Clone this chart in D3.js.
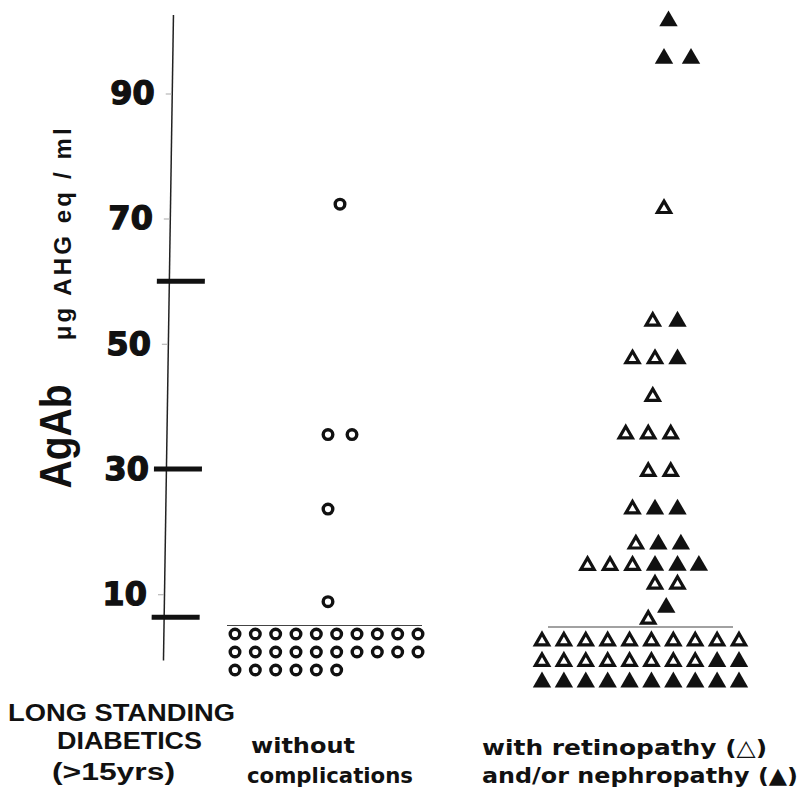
<!DOCTYPE html>
<html><head><meta charset="utf-8">
<script src="https://cdn.jsdelivr.net/npm/d3@7"></script>
<style>html,body{margin:0;padding:0;background:#fff;}svg{display:block;}</style>
</head><body>
<svg id="chart" width="803" height="794"></svg>
<script>
// ---- data ----
const yTicks = [10, 30, 50, 70, 90];
const refBars = [60, 30, 6.3];
const detectionLimit = 5;
const groups = ["without complications", "with retinopathy and/or nephropathy"];

// group 1: circles above detection limit
const circleValues = [72.3, 35.5, 35.5, 23.6, 8.8];
const circleSlots  = [0, -0.5, 0.5, -0.5, -0.5];
// circles below detection limit (per row)
const circleBelowRows = [10, 10, 6];

// group 2: triangles above detection limit (1 = nephropathy filled, 0 = retinopathy open)
const triValues = [102, 96, 96, 72, 54, 54, 48, 48, 48, 42, 36, 36, 36, 30, 30, 24, 24, 24,
                   18.4, 18.4, 18.4, 15, 15, 15, 15, 15, 15, 12, 12, 8.3, 6.4];
const triFilled = [1, 1, 1, 0, 0, 1, 0, 0, 1, 0, 0, 0, 0, 0, 0, 0, 1, 1,
                   0, 1, 1, 0, 0, 0, 1, 1, 1, 0, 0, 1, 0];
const triSlots  = [0.6, 0.4, 1.6, 0.4, -0.1, 1, -1, 0, 1, -0.1, -1.3, -0.3, 0.7, -0.3, 0.7, -1, 0, 1,
                   -0.85, 0.15, 1.15, -3, -2, -1, 0, 1, 1.95, 0, 1, 0.5, -0.3];
// triangles below detection limit (per row)
const triBelowOpen   = [10, 8, 0];
const triBelowFilled = [0, 2, 10];

// ---- drawing ----
const svg = d3.select("#chart");
const ink = "#111";

const y = d3.scaleLinear().domain([0, 100]).range([656.8, 30.8]);
const yAxisScale = y.copy().domain([-0.5, 102.6]).range([y(-0.5), y(102.6)]);

const axisG = svg.append("g")
  .attr("transform", "translate(173.2,0) skewX(-0.887)")
  .call(d3.axisLeft(yAxisScale).tickValues(yTicks).tickSize(6).tickSizeOuter(0)
        .tickPadding(11).tickFormat(d3.format("d")));
axisG.select(".domain").attr("stroke", "#222").attr("stroke-width", 1.5);
axisG.selectAll(".tick line").attr("stroke", "#aaa").attr("stroke-width", 1);
axisG.selectAll(".tick text")
  .attr("fill", ink).attr("stroke", ink).attr("stroke-width", 1.3)
  .style("font-family", "'DejaVu Sans', sans-serif")
  .style("font-weight", "bold")
  .style("font-size", "32px");

axisG.selectAll(".refbar").data(refBars).join("line")
  .attr("class", "refbar")
  .attr("x1", -12).attr("x2", 36)
  .attr("y1", d => y(d)).attr("y2", d => y(d))
  .attr("stroke", ink).attr("stroke-width", 5);

// y axis titles
svg.append("text")
  .attr("transform", `translate(71,${y(35.2)}) rotate(-90)`)
  .attr("text-anchor", "middle")
  .attr("textLength", 104).attr("lengthAdjust", "spacingAndGlyphs")
  .style("font-family", "'Liberation Sans Narrow','Liberation Sans',Arial,sans-serif")
  .style("font-weight", "bold").style("font-size", "44px")
  .attr("fill", ink).text("AgAb");
svg.append("text")
  .attr("transform", `translate(71,${y(67.5)}) rotate(-90)`)
  .attr("text-anchor", "middle")
  .attr("textLength", 212).attr("lengthAdjust", "spacing")
  .style("font-family", "'Liberation Sans',Arial,sans-serif")
  .style("font-weight", "bold").style("font-size", "24px")
  .attr("fill", ink).text("μg AHG  eq / ml");

// x positions
const xGroup = d3.scalePoint().domain(groups).range([340, 655]);
const circleSpacing = 24, triSpacing = 22.5;
const xBlockCircle = d3.scalePoint().domain(d3.range(10)).range([235, 418]);
const xBlockTri = d3.scalePoint().domain(d3.range(10)).range([542, 739]);
const yLine = y(detectionLimit);
const rowCircle = d3.scalePoint().domain(d3.range(3)).range([yLine + 8.5, yLine + 44.5]);
const rowTri = d3.scalePoint().domain(d3.range(3)).range([yLine + 13, yLine + 54]);

// detection limit lines
svg.append("line").attr("x1", xBlockCircle(0) - 8).attr("x2", xBlockCircle(9) + 4)
  .attr("y1", yLine).attr("y2", yLine).attr("stroke", "#444").attr("stroke-width", 1.2);
svg.append("line").attr("x1", xBlockTri(0) + 6).attr("x2", xBlockTri(9) - 6)
  .attr("y1", yLine + 1.5).attr("y2", yLine + 1.5).attr("stroke", "#444").attr("stroke-width", 1.2);

// circles
const circles = circleValues.map((v, i) => ({x: xGroup(groups[0]) + circleSlots[i] * circleSpacing, y: y(v)}));
circleBelowRows.forEach((n, r) => d3.range(n).forEach(c => circles.push({x: xBlockCircle(c), y: rowCircle(r)})));
svg.append("g").selectAll("circle").data(circles).join("circle")
  .attr("cx", d => d.x).attr("cy", d => d.y).attr("r", 4.8)
  .attr("fill", "none").attr("stroke", ink).attr("stroke-width", 3.4);

// triangles
const tris = triValues.map((v, i) => ({x: xGroup(groups[1]) + triSlots[i] * triSpacing, y: y(v), filled: triFilled[i]}));
[0, 1, 2].forEach(r => {
  d3.range(triBelowOpen[r]).forEach(c => tris.push({x: xBlockTri(c), y: rowTri(r), filled: 0}));
  d3.range(triBelowFilled[r]).forEach(c => tris.push({x: xBlockTri(triBelowOpen[r] + c), y: rowTri(r), filled: 1}));
});
const filledPath = "M0,-7.9L9.2,7.9L-9.2,7.9Z";
const openPath = "M0,-5L6.6,6.4L-6.6,6.4Z";
svg.append("g").selectAll("path").data(tris).join("path")
  .attr("transform", d => `translate(${d.x},${d.y})`)
  .attr("d", d => d.filled ? filledPath : openPath)
  .attr("fill", d => d.filled ? ink : "none")
  .attr("stroke", d => d.filled ? "none" : ink)
  .attr("stroke-width", 3.2).attr("stroke-linejoin", "miter");

// bottom labels
const boldLeft = g => g.style("font-family", "'Liberation Sans',Arial,sans-serif").style("font-weight", "bold").style("font-size", "24px").attr("fill", ink);
const catFont = g => g.style("font-family", "'DejaVu Sans',sans-serif").style("font-weight", "bold").style("font-size", "22px").attr("fill", ink);
const labels = [
  {t: "LONG STANDING", x: 8, y: 721, len: 227, f: boldLeft},
  {t: "DIABETICS", x: 57, y: 749, len: 145, f: boldLeft},
  {t: "(>15yrs)", x: 52, y: 780, len: 123, f: boldLeft},
  {t: "without", x: 251, y: 753, len: 104, f: catFont},
  {t: "complications", x: 247, y: 783, len: 166, f: catFont},
  {t: "with retinopathy  (△)", x: 482, y: 755, len: 285, f: catFont},
  {t: "and/or  nephropathy (▲)", x: 482, y: 783, len: 316, f: catFont}
];
labels.forEach(l => {
  svg.append("text").attr("x", l.x).attr("y", l.y)
    .attr("textLength", l.len).attr("lengthAdjust", "spacingAndGlyphs")
    .call(l.f).text(l.t);
});
</script>
</body></html>
